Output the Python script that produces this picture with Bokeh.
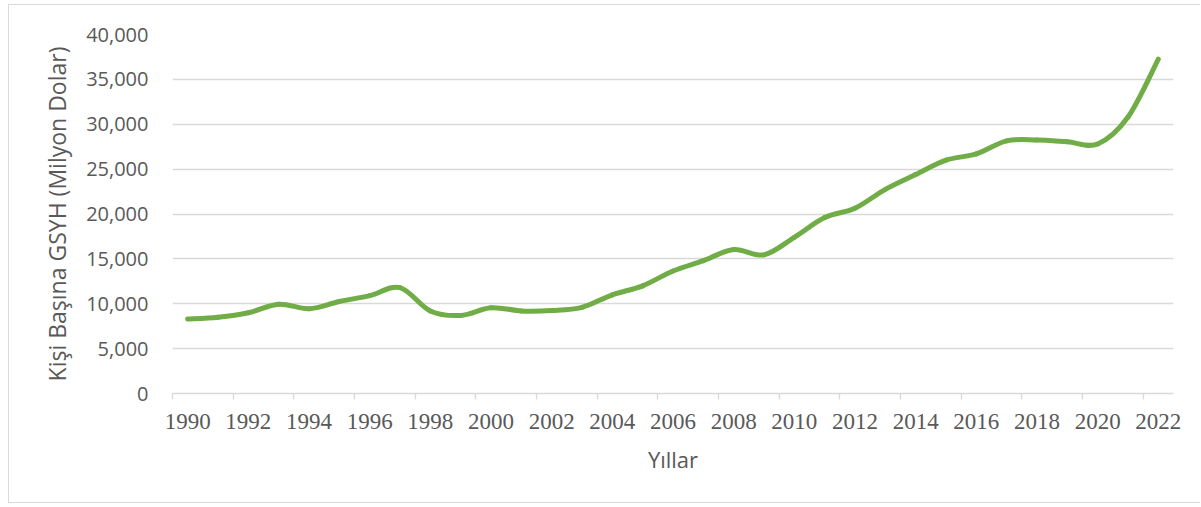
from bokeh.plotting import figure
from bokeh.models import Range1d, FixedTicker, NumeralTickFormatter
from bokeh.embed import file_html
from bokeh.resources import INLINE

years = list(range(1990, 2023))
gdp_per_capita = [8300, 8500, 9000, 9950, 9450, 10250, 10900, 11800, 9200, 8700,
                  9550, 9200, 9250, 9600, 11000, 12000, 13650, 14800, 16050, 15450,
                  17400, 19600, 20650, 22750, 24400, 26000, 26700, 28150, 28250, 28050,
                  27800, 30800, 37250]
y_ticks = [0, 5000, 10000, 15000, 20000, 25000, 30000, 35000, 40000]
x_label_years = list(range(1990, 2023, 2))
x_tick_marks = [y - 0.5 for y in range(1990, 2023, 2)]

x_title = "Yıllar"
y_title = "Kişi Başına GSYH (Milyon Dolar)"

GRID = "#d9d9d9"
TEXT = "#595959"
GREEN = "#70ad47"

p = figure(width=1192, height=499, output_backend="svg", toolbar_location=None,
           x_range=Range1d(1989.5, 2022.5), y_range=Range1d(0, 40000),
           min_border_left=163, min_border_right=28, min_border_top=29, min_border_bottom=111,
           background_fill_color="white", border_fill_color="white")
p.outline_line_color = None
p.styles = {"border-left": "1px solid #d9d9d9", "border-top": "1px solid #d9d9d9",
            "border-bottom": "1px solid #d9d9d9", "margin-left": "8px", "margin-top": "4px"}

# smoothed line (Catmull-Rom style Bezier through the data points)
n = len(years)
x0, y0, x1, y1, cx0, cy0, cx1, cy1 = [], [], [], [], [], [], [], []
for i in range(n - 1):
    im1 = max(i - 1, 0)
    ip2 = min(i + 2, n - 1)
    x0.append(years[i]); y0.append(gdp_per_capita[i])
    x1.append(years[i + 1]); y1.append(gdp_per_capita[i + 1])
    cx0.append(years[i] + (years[i + 1] - years[im1]) / 6)
    cy0.append(gdp_per_capita[i] + (gdp_per_capita[i + 1] - gdp_per_capita[im1]) / 6)
    cx1.append(years[i + 1] - (years[ip2] - years[i]) / 6)
    cy1.append(gdp_per_capita[i + 1] - (gdp_per_capita[ip2] - gdp_per_capita[i]) / 6)

p.bezier(x0=x0, y0=y0, x1=x1, y1=y1, cx0=cx0, cy0=cy0, cx1=cx1, cy1=cy1,
         line_color=GREEN, line_width=5, line_cap="round")

# grid
p.xgrid.grid_line_color = None
p.ygrid.grid_line_color = GRID
p.ygrid.grid_line_width = 1.3
p.ygrid.ticker = FixedTicker(ticks=y_ticks)

# y axis
p.yaxis.ticker = FixedTicker(ticks=y_ticks)
p.yaxis.formatter = NumeralTickFormatter(format="0,0")
p.yaxis.axis_line_color = None
p.yaxis.major_tick_line_color = None
p.yaxis.minor_tick_line_color = None
p.yaxis.major_tick_out = 0
p.yaxis.major_tick_in = 0
p.yaxis.major_label_standoff = 24
p.yaxis.major_label_text_font = "Open Sans"
p.yaxis.major_label_text_font_size = "20px"
p.yaxis.major_label_text_color = TEXT
p.yaxis.axis_label = y_title
p.yaxis.axis_label_text_font = "Open Sans"
p.yaxis.axis_label_text_font_size = "23px"
p.yaxis.axis_label_text_font_style = "normal"
p.yaxis.axis_label_text_color = TEXT
p.yaxis.axis_label_standoff = 10

# x axis
p.xaxis.ticker = FixedTicker(ticks=x_label_years, minor_ticks=x_tick_marks)
p.xaxis.axis_line_color = GRID
p.xaxis.axis_line_width = 1.3
p.xaxis.major_tick_line_color = None
p.xaxis.major_tick_out = 0
p.xaxis.major_tick_in = 0
p.xaxis.minor_tick_line_color = GRID
p.xaxis.minor_tick_line_width = 1.3
p.xaxis.minor_tick_out = 6
p.xaxis.minor_tick_in = 0
p.xaxis.major_label_standoff = 14
p.xaxis.major_label_text_font = "Liberation Serif"
p.xaxis.major_label_text_font_size = "23px"
p.xaxis.major_label_text_color = TEXT
p.xaxis.axis_label = x_title
p.xaxis.axis_label_text_font = "Open Sans"
p.xaxis.axis_label_text_font_size = "22px"
p.xaxis.axis_label_text_font_style = "normal"
p.xaxis.axis_label_text_color = TEXT
p.xaxis.axis_label_standoff = 12

open("out.html", "w").write(file_html(p, INLINE))
